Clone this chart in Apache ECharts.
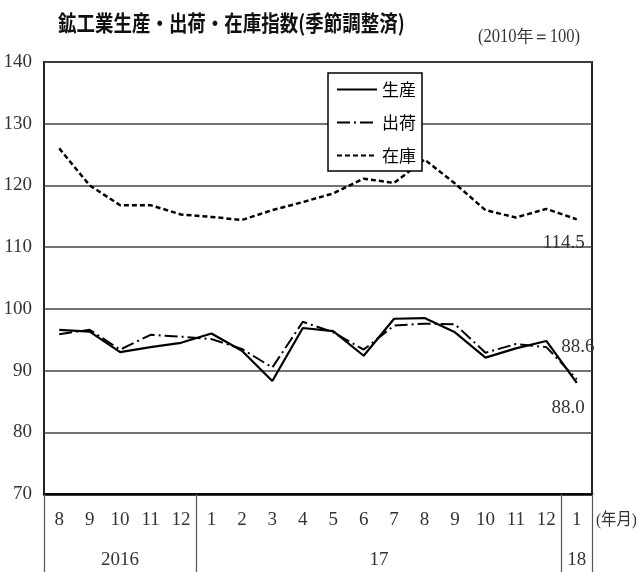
<!DOCTYPE html>
<html>
<head>
<meta charset="utf-8">
<script src="https://cdn.jsdelivr.net/npm/echarts@6/dist/echarts.min.js"></script>
<style>
  html, body { margin: 0; padding: 0; background: #fff; }
  #chart { width: 636px; height: 572px; }
</style>
</head>
<body>
<div id="chart"></div>
<script>
// Month labels along the x axis (Aug 2016 – Jan 2018)
const months = ['8', '9', '10', '11', '12', '1', '2', '3', '4', '5', '6', '7', '8', '9', '10', '11', '12', '1'];
// Year groups under the month labels and how many months each spans
const yearLabels = ['2016', '17', '18'];
const yearSpans = [5, 12, 1];

// Seasonally adjusted indices (2010 = 100)
const production = [96.6, 96.3, 93.0, 93.8, 94.5, 96.0, 93.2, 88.3, 96.9, 96.4, 92.4, 98.4, 98.5, 96.2, 92.1, 93.6, 94.8, 88.0];
const shipments  = [95.9, 96.6, 93.4, 95.8, 95.5, 95.1, 93.5, 90.5, 97.9, 96.2, 93.4, 97.3, 97.6, 97.5, 92.9, 94.3, 93.8, 88.6];
const inventory  = [126.0, 120.0, 116.8, 116.8, 115.3, 114.9, 114.4, 116.0, 117.3, 118.7, 121.1, 120.4, 124.2, 120.3, 116.0, 114.8, 116.2, 114.5];

// Value axis ticks
const yMin = 70, yMax = 140, yStep = 10;

const SERIF = '"Liberation Serif", "DejaVu Serif", serif';
const GOTHIC = '"Noto Sans CJK JP", "Noto Sans", sans-serif';

const GRID = { left: 44, right: 44, top: 62, bottom: 78 };
const band = (636 - GRID.left - GRID.right) / months.length;

// Per-month year category, group start indices, and label positions
const yearCats = [];
const groupStarts = [];
const labelAt = {};
yearLabels.forEach(function (y, g) {
  const start = yearCats.length;
  groupStarts.push(start);
  for (let i = 0; i < yearSpans[g]; i++) yearCats.push(y);
  const mid = start + Math.floor((yearSpans[g] - 1) / 2);
  labelAt[mid] = yearSpans[g] % 2 === 0; // even spans sit between two months
});

const last = months.length - 1;
function endMark(values, dx, dy, align) {
  return {
    symbol: 'circle',
    symbolSize: 1,
    itemStyle: { color: 'rgba(0,0,0,0)' },
    data: [{ coord: [last, values[last]], value: values[last] }],
    label: {
      show: true,
      position: 'inside',
      align: align,
      verticalAlign: 'middle',
      offset: [dx, dy],
      color: '#333',
      fontFamily: SERIF,
      fontSize: 19,
      formatter: function (p) { return p.value.toFixed(1); }
    }
  };
}

const chart = echarts.init(document.getElementById('chart'));
chart.setOption({
  animation: false,
  backgroundColor: '#fff',
  grid: Object.assign({ show: true, borderColor: '#222', borderWidth: 2, containLabel: false }, GRID),
  legend: {
    orient: 'vertical',
    left: 328,
    top: 73,
    padding: [8, 6, 7, 8],
    itemWidth: 40,
    itemHeight: 14,
    itemGap: 16,
    backgroundColor: '#fff',
    borderColor: '#000',
    borderWidth: 1.5,
    // only the line sample, no point marker
    itemStyle: { opacity: 0 },
    textStyle: { fontFamily: GOTHIC, fontSize: 17, color: '#000' },
    data: ['生産', '出荷', '在庫']
  },
  xAxis: [
    {
      type: 'category',
      position: 'bottom',
      data: months,
      boundaryGap: true,
      axisLine: { show: true, lineStyle: { color: '#000', width: 2.5 } },
      axisTick: { show: false },
      axisLabel: { interval: 0, margin: 17, color: '#333', fontFamily: SERIF, fontSize: 19 },
      splitLine: { show: false }
    },
    {
      type: 'category',
      position: 'bottom',
      data: yearCats,
      boundaryGap: true,
      axisLine: { show: false },
      axisTick: {
        show: true,
        inside: false,
        length: 78,
        interval: function (idx) { return groupStarts.indexOf(idx) >= 0; },
        lineStyle: { color: '#555', width: 1.2 }
      },
      axisLabel: {
        margin: 57,
        color: '#333',
        fontFamily: SERIF,
        fontSize: 19,
        interval: function (idx) { return labelAt.hasOwnProperty(idx); },
        formatter: function (value, idx) {
          return labelAt[idx] ? '{s|' + value + '}' : value;
        },
        rich: {
          s: { padding: [0, 0, 0, band], fontFamily: SERIF, fontSize: 19, color: '#333' }
        }
      },
      splitLine: { show: false }
    }
  ],
  yAxis: {
    type: 'value',
    min: yMin,
    max: yMax,
    interval: yStep,
    axisLine: { show: false },
    axisTick: { show: false },
    axisLabel: { margin: 12, color: '#333', fontFamily: SERIF, fontSize: 19 },
    splitLine: { show: true, lineStyle: { color: '#444', width: 1.5 } }
  },
  series: [
    {
      name: '生産',
      type: 'line',
      data: production,
      symbol: 'none',
      lineStyle: { color: '#000', width: 2.2, type: 'solid' },
      itemStyle: { color: '#000' },
      markPoint: endMark(production, 8, 25.5, 'right')
    },
    {
      name: '出荷',
      type: 'line',
      data: shipments,
      symbol: 'none',
      lineStyle: { color: '#000', width: 2, type: [13, 4, 2, 4] },
      itemStyle: { color: '#000' },
      markPoint: endMark(shipments, -15.5, -32.5, 'left')
    },
    {
      name: '在庫',
      type: 'line',
      data: inventory,
      symbol: 'none',
      lineStyle: { color: '#000', width: 2.5, type: [5, 3] },
      itemStyle: { color: '#000' },
      markPoint: endMark(inventory, 8, 24, 'right')
    }
  ],
  graphic: [
    {
      type: 'text',
      x: 58,
      y: 23,
      scaleX: 0.84,
      style: {
        text: '鉱工業生産・出荷・在庫指数(季節調整済)',
        fontFamily: GOTHIC,
        fontWeight: 'bold',
        fontSize: 22,
        fill: '#111',
        align: 'left',
        verticalAlign: 'middle'
      }
    },
    {
      type: 'text',
      x: 580,
      y: 37,
      scaleX: 0.92,
      style: {
        text: '(2010年＝100)',
        fontFamily: SERIF,
        fontSize: 18,
        fill: '#333',
        align: 'right',
        verticalAlign: 'middle'
      }
    },
    {
      type: 'text',
      x: 596,
      y: 521,
      scaleX: 0.9,
      style: {
        text: '(年月)',
        fontFamily: SERIF + ', ' + GOTHIC,
        fontSize: 17,
        fill: '#333',
        align: 'left',
        verticalAlign: 'middle'
      }
    }
  ]
});
</script>
</body>
</html>
